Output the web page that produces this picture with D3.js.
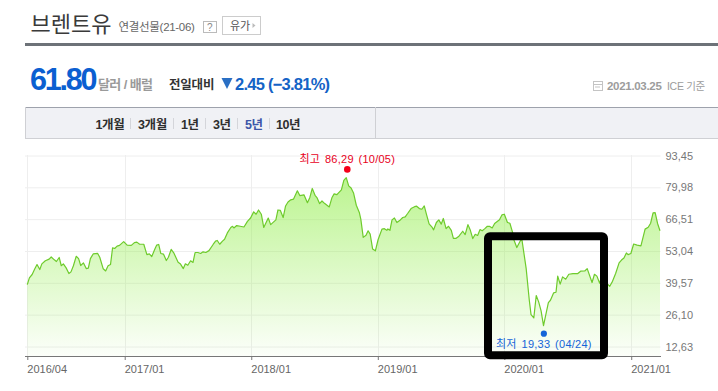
<!DOCTYPE html>
<html>
<head>
<meta charset="utf-8">
<script src="https://cdn.jsdelivr.net/npm/d3@7"></script>
<style>
html, body { margin: 0; padding: 0; background: #fff; overflow: hidden; }
text { font-family: "Liberation Sans", "Noto Sans CJK KR", sans-serif; }
</style>
</head>
<body>
<div id="chart"></div>
<script>
// days since the first quote (2016-03-26)
const days = [
  0, 6, 14, 21, 28, 36, 42, 52, 63, 69, 78, 84, 92, 98, 104, 112, 120, 126, 133, 141, 148, 154, 162, 170, 176, 182, 190, 203, 209, 219, 226, 233, 240,
  246, 252, 259, 266, 278, 288, 300, 309, 316, 324, 336, 345, 352, 359, 368, 373, 379, 385, 393, 401, 407, 415, 423, 435, 442, 450, 456, 463, 471, 478,
  484, 492, 500, 507, 515, 524, 536, 543, 548, 555, 563, 569, 577, 587, 592, 596, 604, 614,
  625, 635, 644, 653, 660, 667, 675, 682, 695, 702, 717, 723, 730, 738, 745, 752, 760, 768, 779, 786, 798, 808, 815, 822, 830, 836, 843, 850, 858, 871,
  879, 885, 893, 906, 913, 920, 927, 934, 941, 949, 958, 962, 969, 977, 983, 989, 996, 1004, 1012, 1023, 1030, 1037, 1040, 1046, 1052, 1059, 1066, 1076,
  1083, 1090, 1097, 1107, 1117, 1123, 1131, 1138, 1145, 1152, 1159, 1168, 1172, 1180, 1187, 1194, 1200, 1208, 1215, 1223, 1229, 1237, 1245, 1256, 1263,
  1271, 1278, 1285, 1292, 1299, 1306, 1312, 1319, 1327, 1333, 1341, 1348, 1362, 1369, 1376, 1385, 1392, 1400, 1404, 1412, 1423, 1427, 1439, 1448, 1453,
  1461, 1468, 1475, 1482, 1489, 1503, 1509, 1518, 1525, 1530, 1537, 1544, 1553, 1562, 1574, 1588, 1596, 1608, 1615, 1629, 1636, 1643, 1651, 1657, 1668,
  1680, 1688, 1697, 1707, 1714, 1721, 1728, 1733, 1741, 1749, 1759, 1770, 1782, 1791, 1798, 1805, 1811, 1818, 1825
]
const prices = [
  38.8, 41.7, 43.1, 45.3, 47.3, 45.2, 47.6, 48.9, 49.6, 50.5, 49.3, 48.6, 50.3, 46.8, 47.6, 45.9, 43.5, 44.2, 46.8, 50.8, 49.8, 46.9, 48.0, 45.6, 45.8, 49.8, 51.8, 52.0, 50.4, 45.5, 44.6, 46.8, 47.3,
  54.4, 54.1, 55.1, 55.4, 57.0, 55.5, 55.4, 56.6, 56.8, 55.9, 55.9, 51.5, 51.8, 50.7, 53.9, 55.5, 55.8, 52.0, 51.7, 49.0, 50.4, 53.7, 52.1, 48.3, 47.5, 45.6, 47.6, 47.0, 48.9, 48.2,
  52.4, 52.4, 52.0, 52.7, 52.4, 53.2, 55.8, 57.2, 57.5, 55.9, 57.2, 58.0, 60.7, 63.0, 63.5, 62.8, 63.8, 63.5,
  63.2, 65.6, 67.0, 69.6, 68.6, 70.4, 68.6, 63.0, 67.0, 64.2, 66.2, 70.4, 70.2, 67.2, 72.1, 73.8, 74.7, 75.0, 78.5, 76.5, 76.8, 73.5, 75.7, 79.5, 76.6, 75.5, 73.1, 74.2, 73.1, 71.7,
  75.7, 77.2, 76.9, 78.9, 82.9, 84.1, 80.6, 79.7, 77.6, 72.4, 69.2, 66.5, 58.8, 59.7, 61.6, 60.2, 53.9, 53.1, 57.9, 62.3, 62.5, 61.8, 62.4, 61.8, 66.2, 67.0, 65.1, 66.2,
  67.2, 67.5, 68.9, 71.0, 71.8, 72.0, 71.0, 70.7, 72.1, 68.2, 64.5, 63.0, 62.0, 65.1, 66.2, 64.4, 66.8, 62.5, 63.5, 61.8, 58.4, 58.4, 59.3, 61.4, 60.0,
  64.2, 61.8, 58.3, 60.1, 59.6, 62.1, 61.6, 62.4, 63.5, 63.5, 62.8, 64.7, 66.3, 68.3, 68.6, 65.1, 64.8, 60.8, 57.6, 54.5, 57.6, 57.6, 45.6, 32.2, 26.1,
  24.7, 34.2, 31.5, 27.7, 21.5, 31.2, 32.2, 35.3, 35.6, 42.4, 39.0, 42.1, 41.1, 43.2, 43.5, 43.5, 44.5, 44.6, 45.6, 39.7, 43.2, 42.4, 39.4, 42.4, 40.0,
  38.1, 40.2, 43.5, 48.0, 49.2, 50.1, 52.2, 51.5, 52.0, 56.0, 55.5, 55.2, 62.3, 63.1, 64.8, 69.2, 69.3, 64.7, 61.6
]
const yTicks = [93.45, 79.98, 66.51, 53.04, 39.57, 26.10, 12.63]
const xTickDates = ['2016-03-26', '2017-01-01', '2018-01-01', '2019-01-01', '2020-01-01', '2021-01-01']
const xTickLabels = ['2016/04', '2017/01', '2018/01', '2019/01', '2020/01', '2021/01']
const high = { date: '2018-10-05', value: 86.29, label: '최고 86,29 (10/05)' }
const low = { date: '2020-04-24', value: 19.33, label: '최저 19,33 (04/24)' }
const tabs = ['1개월', '3개월', '1년', '3년', '5년', '10년']
const tabX = [95.5, 138, 181, 213, 245, 276]
const tabSeps = [130, 173, 205, 237, 269]

const parseDate = d3.utcParse('%Y-%m-%d')
const startDate = parseDate('2016-03-26')
const endDate = parseDate('2021-03-25')
const series = days.map((d, i) => ({ date: d3.utcDay.offset(startDate, d), value: prices[i] }))

const svg = d3.select('#chart')
    .append('svg')
    .attr('width', 718)
    .attr('height', 391)
    .style('display', 'block')

const put = (x, y, str, size, color, weight, spacing) => svg.append('text')
    .attr('x', x)
    .attr('y', y)
    .attr('font-size', size)
    .attr('fill', color)
    .attr('font-weight', weight || 'normal')
    .attr('letter-spacing', spacing || 0)
    .text(str)

// header
put(30.5, 32, '브렌트유', 22, '#3a3a3a')
put(118.5, 31, '연결선물(21-06)', 11.5, '#666', 'normal', -0.3)
svg.append('rect').attr('x', 203.5).attr('y', 21.5).attr('width', 13).attr('height', 11)
    .attr('fill', '#fff').attr('stroke', '#bbb')
put(207, 31, '?', 10, '#888')
svg.append('rect').attr('x', 222.5).attr('y', 16.5).attr('width', 38).attr('height', 18)
    .attr('fill', '#fff').attr('stroke', '#ccc')
put(230, 30, '유가', 11, '#555')
svg.append('path').attr('d', 'M252.5,23 L255.5,25.5 L252.5,28 Z').attr('fill', '#bbb')
svg.append('rect').attr('x', 25).attr('y', 43).attr('width', 693).attr('height', 3).attr('fill', '#6d7278')

// price line
put(30, 90, '61.80', 30.5, '#0b5fd1', 'bold', -2.2)
put(98, 89, '달러 / 배럴', 13, '#9a9a9a', 'bold', -0.6)
put(169, 89, '전일대비', 12.5, '#333', 'bold', -0.2)
svg.append('path').attr('d', 'M221.5,78 L232.5,78 L227,89 Z').attr('fill', '#2a6fc4')
put(235, 90, '2.45 (−3.81%)', 16.5, '#1463c6', 'bold', -0.75)
svg.append('rect').attr('x', 593.5).attr('y', 81.5).attr('width', 9).attr('height', 9)
    .attr('fill', 'none').attr('stroke', '#c4c4c4')
svg.append('path').attr('d', 'M593.5,84.5 H602.5 M595,87 H600').attr('stroke', '#c4c4c4')
put(607, 90, '2021.03.25', 11.5, '#9c9c9c', 'bold', -0.3)
put(667, 90, 'ICE 기준', 10.5, '#9c9c9c', 'normal', -0.3)

// tab bar
svg.append('rect').attr('x', 25).attr('y', 107).attr('width', 693).attr('height', 31.5).attr('fill', '#f0f1f5')
svg.append('path').attr('d', 'M25,107.5 H718').attr('stroke', '#9ea2ac')
svg.append('path').attr('d', 'M25,138.5 H718 M25.5,107 V138 M375.5,107 V138').attr('stroke', '#cfd0d4')
tabs.forEach((t, i) => put(tabX[i], 128.5, t, 12.5, t === '5년' ? '#3c55a8' : '#2e2e2e', 'bold', -0.4))
svg.selectAll('.tabsep')
    .data(tabSeps)
    .enter().append('path')
    .attr('d', d => 'M' + d + '.5,118 V129')
    .attr('stroke', '#d4d5da')

// chart
const scaleX = d3.scaleUtc()
    .domain([startDate, endDate])
    .range([27.3, 660])

const scaleY = d3.scaleLinear()
    .domain([93.45, 12.63])
    .range([155.5, 346.5])

const gridY = svg.append('g')
    .attr('transform', 'translate(660.5,0)')
    .call(d3.axisRight(scaleY)
        .tickValues(yTicks)
        .tickSize(-635.5)
        .tickPadding(5)
        .tickFormat(d => d3.format('.2f')(d).replace('.', ',')))
gridY.select('.domain').remove()
gridY.selectAll('line').attr('stroke', '#eeeeee').attr('stroke-width', 1)
gridY.selectAll('text').attr('fill', '#777').attr('font-size', 11).attr('font-family', null)

const tickDates = xTickDates.map(parseDate)
const axisX = svg.append('g')
    .attr('transform', 'translate(0,356)')
    .call(d3.axisBottom(scaleX)
        .tickValues(tickDates)
        .tickSizeOuter(0)
        .tickSize(4)
        .tickFormat((d, i) => xTickLabels[i]))
axisX.select('.domain').remove()
axisX.selectAll('line').attr('stroke', '#777')
axisX.selectAll('text')
    .attr('text-anchor', 'start')
    .attr('x', -0.5)
    .attr('y', 9)
    .attr('fill', '#666')
    .attr('font-size', 11)
    .attr('font-family', null)

svg.selectAll('.vgrid')
    .data(tickDates)
    .enter().append('line')
    .attr('x1', d => Math.round(scaleX(d)) + 0.5)
    .attr('x2', d => Math.round(scaleX(d)) + 0.5)
    .attr('y1', 155)
    .attr('y2', 356)
    .attr('stroke', '#eeeeee')

const grad = svg.append('defs').append('linearGradient')
    .attr('id', 'areaFill')
    .attr('gradientUnits', 'userSpaceOnUse')
    .attr('x1', 0).attr('x2', 0)
    .attr('y1', scaleY(86.29)).attr('y2', 356)
grad.append('stop').attr('offset', 0).attr('stop-color', '#96ee52').attr('stop-opacity', 0.66)
grad.append('stop').attr('offset', 1).attr('stop-color', '#96ee52').attr('stop-opacity', 0.03)

const area = d3.area()
    .x(d => scaleX(d.date))
    .y0(356)
    .y1(d => scaleY(d.value))

const line = d3.line()
    .x(d => scaleX(d.date))
    .y(d => scaleY(d.value))

svg.append('path').datum(series).attr('d', area).attr('fill', 'url(#areaFill)')
svg.append('path').datum(series).attr('d', line)
    .attr('fill', 'none')
    .attr('stroke', '#6ecb2c')
    .attr('stroke-width', 1.2)
    .attr('stroke-linejoin', 'round')

svg.append('line')
    .attr('x1', 25).attr('x2', 661)
    .attr('y1', 356.5).attr('y2', 356.5)
    .attr('stroke', '#777')

// high and low markers sit 3px off the value
svg.append('circle')
    .attr('cx', scaleX(parseDate(high.date)))
    .attr('cy', scaleY(high.value) - 3)
    .attr('r', 3.3)
    .attr('fill', '#f5001a')
put(scaleX(parseDate(high.date)), 163, high.label, 11, '#e8001c', 'normal', 0.25)
    .attr('text-anchor', 'middle')
    .attr('word-spacing', 1.5)

// black highlight box drawn over the chart
svg.append('rect')
    .attr('x', 488).attr('y', 236.3)
    .attr('width', 116).attr('height', 119)
    .attr('rx', 2)
    .attr('fill', 'none')
    .attr('stroke', '#000')
    .attr('stroke-width', 8)

svg.append('circle')
    .attr('cx', scaleX(parseDate(low.date)))
    .attr('cy', scaleY(low.value) + 3)
    .attr('r', 3.1)
    .attr('fill', '#1565d8')
put(scaleX(parseDate(low.date)), 348, low.label, 11, '#1565d8', 'normal', 0.25)
    .attr('text-anchor', 'middle')
    .attr('word-spacing', 1.5)
</script>
</body>
</html>
